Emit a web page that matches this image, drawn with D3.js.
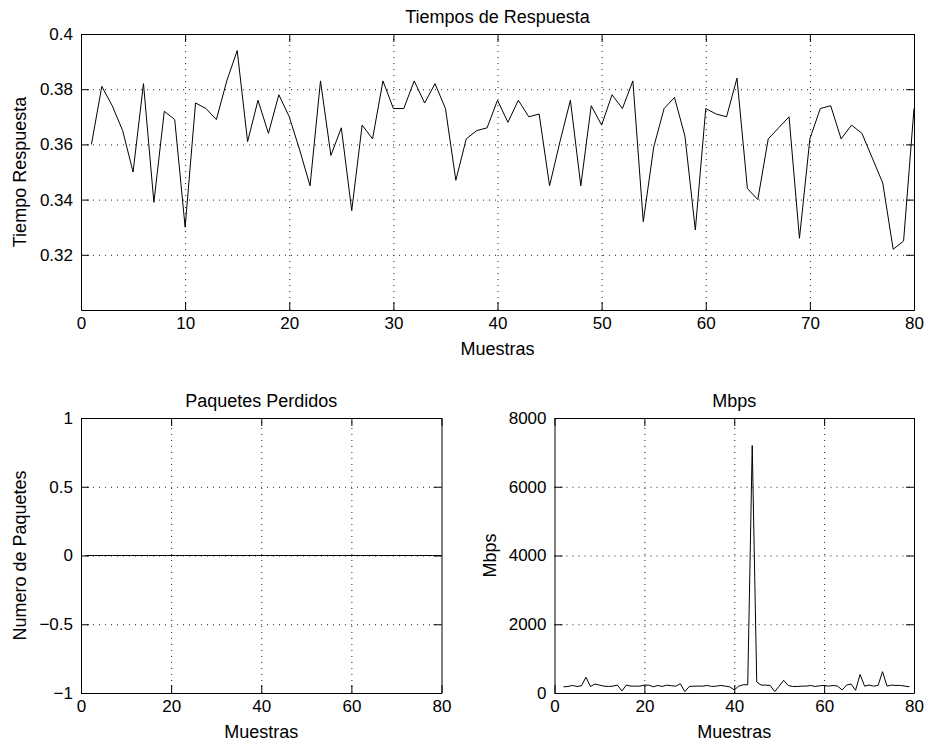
<!DOCTYPE html>
<html>
<head>
<meta charset="utf-8">
<script src="https://cdn.jsdelivr.net/npm/d3@7"></script>
<style>
  body { margin: 0; background: #fff; }
  svg { font-family: "Liberation Sans", Arial, Helvetica, sans-serif; }
  .grid line { stroke: #222; stroke-dasharray: 1,5; }
  .grid path { display: none; }
  .frame path, .frame line { stroke: #000; }
  .series { fill: none; stroke: #000; stroke-width: 1; }
</style>
</head>
<body>
<script>
// samples on the x axis
let muestras = [1,2,3,4,5,6,7,8,9,10,11,12,13,14,15,16,17,18,19,20,
  21,22,23,24,25,26,27,28,29,30,31,32,33,34,35,36,37,38,39,40,
  41,42,43,44,45,46,47,48,49,50,51,52,53,54,55,56,57,58,59,60,
  61,62,63,64,65,66,67,68,69,70,71,72,73,74,75,76,77,78,79,80];

// response times (s)
let tiempos = [0.360,0.381,0.374,0.365,0.350,0.382,0.339,0.372,0.369,0.330,
  0.375,0.373,0.369,0.383,0.394,0.361,0.376,0.364,0.378,0.370,
  0.358,0.345,0.383,0.356,0.366,0.336,0.367,0.362,0.383,0.373,
  0.373,0.383,0.375,0.382,0.373,0.347,0.362,0.365,0.366,0.376,
  0.368,0.376,0.370,0.371,0.345,0.361,0.376,0.345,0.374,0.367,
  0.378,0.373,0.383,0.332,0.359,0.373,0.377,0.363,0.329,0.373,
  0.371,0.370,0.384,0.344,0.340,0.362,0.366,0.370,0.326,0.362,
  0.373,0.374,0.362,0.367,0.364,0.355,0.346,0.322,0.325,0.373];

// lost packets
let perdidos = [0,0,0,0,0,0,0,0,0,0,0,0,0,0,0,0,0,0,0,0,
  0,0,0,0,0,0,0,0,0,0,0,0,0,0,0,0,0,0,0,0,
  0,0,0,0,0,0,0,0,0,0,0,0,0,0,0,0,0,0,0,0,
  0,0,0,0,0,0,0,0,0,0,0,0,0,0,0,0,0,0,0,0];

// throughput samples start at 2
let muestrasMbps = [2,3,4,5,6,7,8,9,10,11,12,13,14,15,16,17,18,19,20,
  21,22,23,24,25,26,27,28,29,30,31,32,33,34,35,36,37,38,39,40,
  41,42,43,44,45,46,47,48,49,50,51,52,53,54,55,56,57,58,59,60,
  61,62,63,64,65,66,67,68,69,70,71,72,73,74,75,76,77,78,79];
let mbps = [180,190,220,190,210,460,190,260,230,200,190,200,230,60,230,200,200,200,230,
  230,180,220,190,230,210,200,270,40,190,200,200,200,220,190,200,220,200,180,90,
  200,240,240,7200,320,230,230,220,40,200,370,220,190,190,200,200,220,190,210,220,
  200,220,200,90,230,260,80,540,200,230,200,220,620,200,230,220,220,200,180];

// tick values
let xTicksTop = [0,10,20,30,40,50,60,70,80];
let yTicksTop = [0.32,0.34,0.36,0.38,0.4];
let xTicksBottom = [0,20,40,60,80];
let yTicksPaq = [-1,-0.5,0,0.5,1];
let yTicksMbps = [0,2000,4000,6000,8000];

let width = 927;
let height = 742;
let tickLen = 8;
let fmt = d3.format("~g");

let svg = d3.select("body").append("svg")
  .attr("width", width)
  .attr("height", height);

function panel(cfg) {
  let g = svg.append("g");
  let x = d3.scaleLinear().domain(cfg.xDomain).range([cfg.left, cfg.right]);
  let y = d3.scaleLinear().domain(cfg.yDomain).range([cfg.bottom, cfg.top]);
  let w = cfg.right - cfg.left;
  let h = cfg.bottom - cfg.top;

  // dotted grid, inner ticks only (border covers the ends)
  g.append("g").attr("class", "grid")
    .attr("transform", "translate(0," + cfg.bottom + ")")
    .call(d3.axisBottom(x).tickValues(cfg.xTicks.filter(function(d) { return d > cfg.xDomain[0] && d < cfg.xDomain[1]; }))
      .tickSize(-h).tickFormat(""));
  g.append("g").attr("class", "grid")
    .attr("transform", "translate(" + cfg.left + ",0)")
    .call(d3.axisLeft(y).tickValues(cfg.yTicks.filter(function(d) { return d > cfg.yDomain[0] && d < cfg.yDomain[1]; }))
      .tickSize(-w).tickFormat(""));

  // data line
  let line = d3.line().x(function(d) { return x(d[0]); }).y(function(d) { return y(d[1]); });
  g.append("path")
    .datum(d3.zip(cfg.xs, cfg.ys))
    .attr("class", "series")
    .attr("d", line);

  // box with inward ticks on all sides
  let bottom = g.append("g").attr("class", "frame")
    .attr("transform", "translate(0," + cfg.bottom + ")")
    .call(d3.axisBottom(x).tickValues(cfg.xTicks).tickSizeInner(-tickLen).tickSizeOuter(0)
      .tickPadding(7).tickFormat(fmt));
  g.append("g").attr("class", "frame")
    .attr("transform", "translate(0," + cfg.top + ")")
    .call(d3.axisTop(x).tickValues(cfg.xTicks).tickSizeInner(-tickLen).tickSizeOuter(0).tickFormat(""));
  let left = g.append("g").attr("class", "frame")
    .attr("transform", "translate(" + cfg.left + ",0)")
    .call(d3.axisLeft(y).tickValues(cfg.yTicks).tickSizeInner(-tickLen).tickSizeOuter(0)
      .tickPadding(8).tickFormat(fmt));
  g.append("g").attr("class", "frame")
    .attr("transform", "translate(" + cfg.right + ",0)")
    .call(d3.axisRight(y).tickValues(cfg.yTicks).tickSizeInner(-tickLen).tickSizeOuter(0).tickFormat(""));

  g.selectAll(".frame text")
    .attr("fill", "#000")
    .style("font-size", "17px")
    .style("font-family", "Liberation Sans, Arial, sans-serif");

  // title and axis labels
  g.append("text")
    .attr("x", (cfg.left + cfg.right) / 2)
    .attr("y", cfg.top - 11)
    .attr("text-anchor", "middle")
    .style("font-size", "18px")
    .text(cfg.title);
  g.append("text")
    .attr("x", (cfg.left + cfg.right) / 2)
    .attr("y", cfg.bottom + 45)
    .attr("text-anchor", "middle")
    .style("font-size", "18px")
    .text(cfg.xLabel);
  g.append("text")
    .attr("transform", "translate(" + cfg.yLabelX + "," + ((cfg.top + cfg.bottom) / 2) + ") rotate(-90)")
    .attr("text-anchor", "middle")
    .style("font-size", "18px")
    .text(cfg.yLabel);
}

// top: response times
panel({
  left: 81, right: 914, top: 34, bottom: 310,
  xDomain: [0, 80], yDomain: [0.30, 0.40],
  xTicks: xTicksTop, yTicks: yTicksTop,
  xs: muestras, ys: tiempos,
  title: "Tiempos de Respuesta", xLabel: "Muestras", yLabel: "Tiempo Respuesta",
  yLabelX: 26
});

// bottom left: lost packets
panel({
  left: 81, right: 441.5, top: 418, bottom: 693,
  xDomain: [0, 80], yDomain: [-1, 1],
  xTicks: xTicksBottom, yTicks: yTicksPaq,
  xs: muestras, ys: perdidos,
  title: "Paquetes Perdidos", xLabel: "Muestras", yLabel: "Numero de Paquetes",
  yLabelX: 26
});

// bottom right: throughput
panel({
  left: 554.5, right: 914, top: 418, bottom: 693,
  xDomain: [0, 80], yDomain: [0, 8000],
  xTicks: xTicksBottom, yTicks: yTicksMbps,
  xs: muestrasMbps, ys: mbps,
  title: "Mbps", xLabel: "Muestras", yLabel: "Mbps",
  yLabelX: 496
});
</script>
</body>
</html>
